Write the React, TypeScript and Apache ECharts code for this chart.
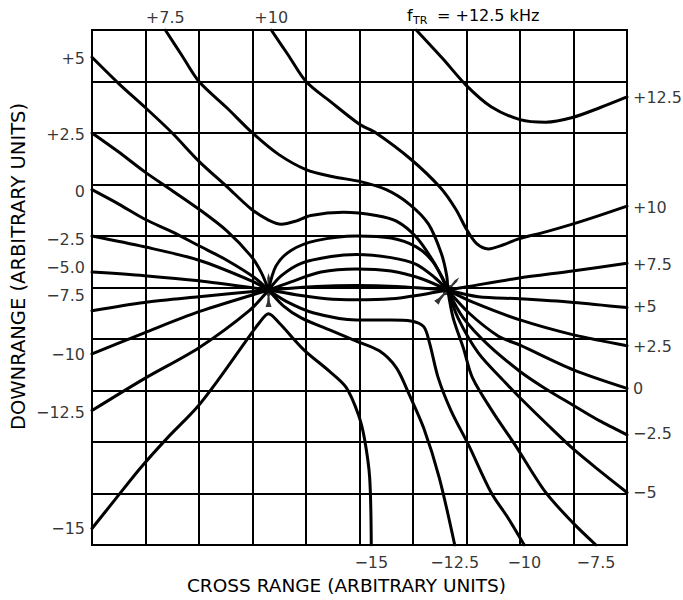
import React, { useEffect, useRef } from "react";
import * as echarts from "echarts";

type P = [number, number];

// Singular points (foci) in grid units
const FL: P = [3.3, 4.95];
const FR: P = [6.65, 4.95];

// Contour +12.5
const c12_5: P[] = [[6.06, 10], [6.55, 9.45], [7.0, 8.92], [7.46, 8.51], [8.0, 8.26], [8.48, 8.21], [8.98, 8.3], [9.49, 8.49], [10, 8.7]];
// Contour +10
const c10: P[] = [[3.35, 10], [3.67, 9.51], [4.0, 9.0], [4.47, 8.6], [5.0, 8.17], [5.31, 8.0], [5.96, 7.49], [6.51, 6.94], [6.8, 6.52], [7.0, 6.13], [7.19, 5.85], [7.41, 5.75], [7.69, 5.83], [7.96, 5.94], [8.48, 6.08], [8.98, 6.23], [9.49, 6.4], [10, 6.58]];
// Contour +7.5
const c7_5a: P[] = [[1.37, 10], [1.69, 9.49], [2.0, 9.0], [2.52, 8.49], [3.0, 8.0], [3.48, 7.59], [4.0, 7.29], [4.51, 7.15], [5.0, 7.06], [5.5, 6.9], [5.93, 6.62], [6.29, 6.23], [6.53, 5.66], [6.63, 5.23], FR];
const c7_5b: P[] = [FR, [7.04, 5.02], [7.96, 5.18], [8.98, 5.32], [10, 5.47]];
// Contour +5
const c5a: P[] = [[0, 9.47], [0.5, 8.96], [1.0, 8.49], [1.5, 8.0], [2.0, 7.45], [2.52, 6.96], [2.98, 6.52], [3.3, 6.31], [3.54, 6.23], [3.81, 6.29], [4.09, 6.4], [4.7, 6.46], [5.31, 6.4], [5.69, 6.29], [6.06, 5.98], [6.39, 5.49], [6.57, 5.13], FR];
const c5b: P[] = [FR, [7.22, 4.82], [8.0, 4.78], [9.0, 4.71], [10, 4.61]];
// Contour +2.5
const c2_5a: P[] = [[0, 8.0], [0.5, 7.63], [0.98, 7.25], [1.5, 6.88], [2.0, 6.52], [2.52, 6.1], [2.98, 5.6], [3.17, 5.28], FL];
const c2_5b: P[] = [FL, [3.44, 5.42], [3.72, 5.72], [4.19, 5.91], [4.94, 6.0], [5.59, 5.96], [6.06, 5.79], [6.35, 5.53], [6.55, 5.19], FR];
const c2_5c: P[] = [FR, [7.13, 4.71], [8.0, 4.37], [9.0, 4.08], [10, 3.87]];
// Contour 0
const c0a: P[] = [[0, 6.9], [0.5, 6.62], [0.98, 6.33], [1.5, 6.08], [2.0, 5.81], [2.52, 5.53], [3.04, 5.19], FL];
const c0b: P[] = [FL, [3.54, 5.23], [3.91, 5.47], [4.47, 5.6], [4.94, 5.64], [5.59, 5.58], [6.06, 5.45], [6.41, 5.19], FR];
const c0c: P[] = [FR, [7.04, 4.51], [7.59, 4.06], [8.0, 3.88], [9.0, 3.4], [10, 3.04]];
// Contour -2.5
const cm2_5a: P[] = [[0, 6.0], [0.98, 5.79], [2.0, 5.53], [2.98, 5.13], FL];
const cm2_5b: P[] = [FL, [3.72, 5.11], [4.28, 5.3], [4.94, 5.36], [5.59, 5.32], [6.16, 5.17], FR];
const cm2_5c: P[] = [FR, [6.94, 4.41], [7.41, 3.88], [8.0, 3.37], [8.44, 3.06], [9.0, 2.71], [9.49, 2.41], [10, 2.14]];
// Contour -5
const cm5a: P[] = [[0, 5.3], [0.98, 5.23], [2.0, 5.13], FL];
const cm5b: P[] = [FL, [4.19, 5.02], [4.94, 5.04], [5.69, 5.02], FR];
const cm5c: P[] = [FR, [6.84, 4.41], [7.22, 3.73], [7.72, 3.16], [8.0, 2.86], [8.54, 2.31], [9.0, 1.86], [9.49, 1.44], [10, 1.02]];
// Contour -7.5
const cm7_5a: P[] = [[0, 4.55], [0.98, 4.71], [2.0, 4.82], FL];
const cm7_5b: P[] = [FL, [3.81, 4.86], [4.38, 4.78], [4.94, 4.76], [5.59, 4.78], [6.16, 4.86], FR];
const cm7_5c: P[] = [FR, [6.75, 4.41], [6.94, 3.83], [7.11, 3.25], [7.5, 2.57], [7.91, 1.94], [8.48, 1.02], [9.0, 0.42], [9.42, 0]];
// Contour -10
const cm10a: P[] = [[0, 3.71], [0.98, 4.12], [2.0, 4.53], FL];
const cm10b: P[] = [FL, [3.63, 4.73], [4.13, 4.51], [4.94, 4.37], [5.59, 4.37], [5.96, 4.35], [6.2, 4.24], [6.31, 3.92], [6.47, 3.25], [6.71, 2.61], [7.04, 1.94], [7.46, 1.02], [7.78, 0.52], [8.08, 0]];
// Contour -12.5
const cm12_5a: P[] = [[0, 2.61], [0.98, 3.23], [2.0, 3.83], [2.94, 4.55], FL];
const cm12_5b: P[] = [FL, [3.57, 4.65], [3.91, 4.41], [4.43, 4.18], [4.94, 3.96], [5.37, 3.77], [5.69, 3.44], [5.93, 2.92], [6.2, 2.27], [6.49, 1.31], [6.78, 0]];
// Contour -15
const cm15: P[] = [[0, 0.32], [0.46, 0.92], [0.91, 1.5], [1.41, 2.08], [1.96, 2.67], [2.39, 3.25], [2.85, 3.92], [3.11, 4.29], [3.3, 4.49], [3.5, 4.31], [3.96, 3.79], [4.43, 3.38], [4.75, 3.06], [4.98, 2.53], [5.09, 2.08], [5.19, 1.31], [5.22, 0]];

const contours: [string, P[]][] = [
  ["+12.5", c12_5], ["+10", c10], ["+7.5", c7_5a], ["+7.5", c7_5b],
  ["+5", c5a], ["+5", c5b], ["+2.5", c2_5a], ["+2.5", c2_5b], ["+2.5", c2_5c],
  ["0", c0a], ["0", c0b], ["0", c0c], ["-2.5", cm2_5a], ["-2.5", cm2_5b], ["-2.5", cm2_5c],
  ["-5", cm5a], ["-5", cm5b], ["-5", cm5c], ["-7.5", cm7_5a], ["-7.5", cm7_5b], ["-7.5", cm7_5c],
  ["-10", cm10a], ["-10", cm10b], ["-12.5", cm12_5a], ["-12.5", cm12_5b], ["-15", cm15],
];

// Contour labels: [text, position along the edge]
const leftLabels: [string, number][] = [["+5", 9.45], ["+2.5", 7.98], ["0", 6.87], ["−2.5", 5.94], ["−5.0", 5.38], ["−7.5", 4.84], ["−10", 3.69], ["−12.5", 2.57], ["−15", 0.32]];
const rightLabels: [string, number][] = [["+12.5", 8.69], ["+10", 6.55], ["+7.5", 5.45], ["+5", 4.63], ["+2.5", 3.85], ["0", 3.04], ["−2.5", 2.16], ["−5", 1.02]];
const topLabels: [string, number][] = [["+7.5", 1.37], ["+10", 3.35]];
const bottomLabels: [string, number][] = [["−15", 5.22], ["−12.5", 6.78], ["−10", 8.08], ["−7.5", 9.42]];

const FONT = "DejaVu Sans";
const FOCUS_PATH = "path://M6,0L7.4,5L7,11L12,17L7,23L7.4,29L9,34L3,34L4.6,29L5,23L0,17L5,11L4.6,5Z";

export default function App() {
  const ref = useRef<HTMLDivElement>(null);
  useEffect(() => {
    document.body.style.margin = "0";
    if (!ref.current) return;
    const chart = echarts.init(ref.current, null, { renderer: "svg" });
    const lbl = (position: string, distance: number) => ({
      show: true, position, distance, formatter: "{b}", color: "#000", fontFamily: FONT, fontSize: 16,
    });
    const labelData = [
      ...leftLabels.map(([t, y]) => ({ name: t, value: [0, y], label: lbl("left", 7) })),
      ...rightLabels.map(([t, y]) => ({ name: t, value: [10, y], label: lbl("right", 6) })),
      ...topLabels.map(([t, x]) => ({ name: t, value: [x, 10], label: lbl("top", 5) })),
      ...bottomLabels.map(([t, x]) => ({ name: t, value: [x, 0], label: lbl("bottom", 9) })),
    ];
    const axisCommon = {
      type: "value", min: 0, max: 10, interval: 1,
      axisLabel: { show: false }, axisTick: { show: false },
      axisLine: { show: true, lineStyle: { color: "#000", width: 2 } },
      splitLine: { show: true, lineStyle: { color: "#000", width: 2 } },
      nameLocation: "middle",
    };
    chart.setOption({
      animation: false,
      backgroundColor: "#fff",
      grid: { left: 92, top: 30, width: 535, height: 516, show: true, borderColor: "#000", borderWidth: 2, backgroundColor: "transparent" },
      xAxis: {
        ...axisCommon, name: "CROSS RANGE (ARBITRARY UNITS)", nameGap: 31,
        nameTextStyle: { fontFamily: FONT, fontSize: 18.5, color: "#000", padding: [0, 26, 0, 0] },
      },
      yAxis: {
        ...axisCommon, name: "DOWNRANGE (ARBITRARY UNITS)", nameGap: 64,
        nameTextStyle: { fontFamily: FONT, fontSize: 19.5, color: "#000", padding: [0, 0, 0, 42] },
      },
      graphic: [
        { type: "text", left: 407, top: 7, style: { text: "f", fontFamily: FONT, fontSize: 16, fill: "#000" } },
        { type: "text", left: 413, top: 15, style: { text: "TR", fontFamily: FONT, fontSize: 11, fill: "#000" } },
        { type: "text", left: 437, top: 7, style: { text: "= +12.5 kHz", fontFamily: FONT, fontSize: 16, fill: "#000" } },
      ],
      series: [
        ...contours.map(([name, data]) => ({
          type: "line", name, data, smooth: 0.3, showSymbol: false, symbol: "none",
          lineStyle: { color: "#000", width: 3, cap: "round", join: "round" },
          z: 3, silent: true,
        })),
        {
          type: "scatter", name: "foci", symbol: FOCUS_PATH, symbolSize: [12, 34], z: 4,
          itemStyle: { color: "#000" },
          data: [{ value: FL, symbolRotate: 0 }, { value: FR, symbolRotate: -42 }],
        },
        { type: "scatter", name: "labels", symbolSize: 0, data: labelData, z: 5, silent: true },
      ],
    });
    return () => chart.dispose();
  }, []);
  return <div ref={ref} style={{ width: 683, height: 600 }} />;
}
